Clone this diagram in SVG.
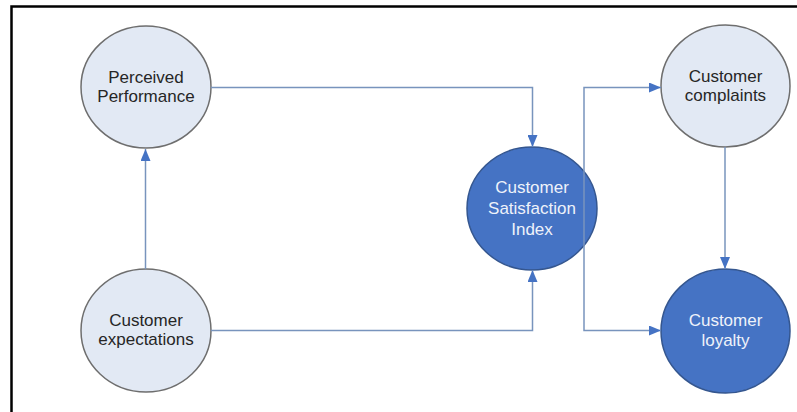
<svg xmlns="http://www.w3.org/2000/svg" width="797" height="412" viewBox="0 0 797 412">
<style>
.light{fill:#e2e9f4;stroke:#6e6e6e;stroke-width:1.5}
.dark{fill:#4573c4;stroke:#34568f;stroke-width:1.5}
.tl{font-family:"Liberation Sans",Arial,sans-serif;font-size:17px;fill:#262626;text-anchor:middle}
.td{font-family:"Liberation Sans",Arial,sans-serif;font-size:17px;fill:#eef2fa;text-anchor:middle}
.conn{fill:none;stroke:#7894bd;stroke-width:1.5}
</style>
<defs>
<marker id="ah" viewBox="0 0 12 10" refX="12" refY="5" markerWidth="12" markerHeight="10" markerUnits="userSpaceOnUse" orient="auto">
<path d="M0,0 L12,5 L0,10 Z" fill="#4573c4"/>
</marker>
</defs>
<rect width="797" height="412" fill="#ffffff"/>
<path d="M11.5,412 V6.5 H797" fill="none" stroke="#000" stroke-width="2.5"/>
<g id="perceived">
<ellipse class="light" cx="146" cy="87" rx="65" ry="61"/>
<text class="tl" x="146" y="83">Perceived</text>
<text class="tl" x="146" y="102">Performance</text>
</g>
<g id="expectations">
<ellipse class="light" cx="146" cy="330.5" rx="65" ry="61.5"/>
<text class="tl" x="146" y="326">Customer</text>
<text class="tl" x="146" y="345">expectations</text>
</g>
<g id="csi">
<ellipse class="dark" cx="532" cy="208.5" rx="65" ry="61.5"/>
<text class="td" x="532" y="193">Customer</text>
<text class="td" x="532" y="214">Satisfaction</text>
<text class="td" x="532" y="235">Index</text>
</g>
<g id="complaints">
<ellipse class="light" cx="725.5" cy="86" rx="64.5" ry="61"/>
<text class="tl" x="725.5" y="82">Customer</text>
<text class="tl" x="725.5" y="101">complaints</text>
</g>
<g id="loyalty">
<ellipse class="dark" cx="725.5" cy="331" rx="64.5" ry="62"/>
<text class="td" x="725.5" y="326">Customer</text>
<text class="td" x="725.5" y="346">loyalty</text>
</g>
<g id="connectors">
<path class="conn" d="M145.5,269 V149" marker-end="url(#ah)"/>
<path class="conn" d="M211,87.5 H532.5 V147" marker-end="url(#ah)"/>
<path class="conn" d="M211,330.5 H532.5 V270" marker-end="url(#ah)"/>
<path class="conn" d="M584,209 V87.5 H661" marker-end="url(#ah)"/>
<path class="conn" d="M584,209 V330.5 H661" marker-end="url(#ah)"/>
<path class="conn" d="M725,147 V269" marker-end="url(#ah)"/>
</g>
</svg>
